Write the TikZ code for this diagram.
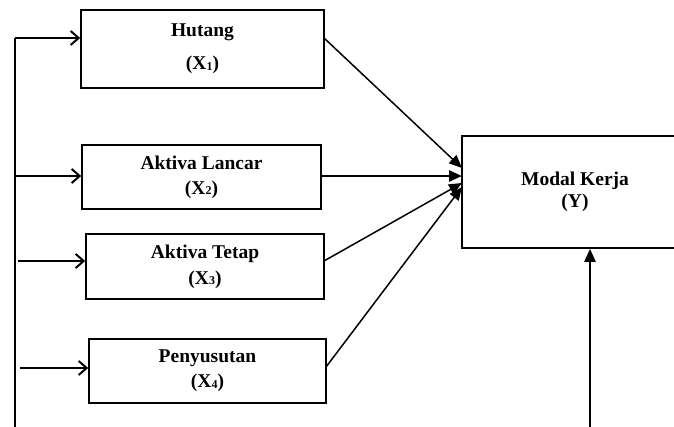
\documentclass[tikz,border=0pt]{standalone}
\usepackage{fontspec}
\setmainfont{Liberation Serif}
\usetikzlibrary{arrows.meta}
\newcommand{\sbx}[1]{\raisebox{-0.3pt}{\fontsize{12}{12}\selectfont #1}}
\begin{document}
\begin{tikzpicture}[x=1pt,y=-1pt,
 box/.style={draw, line width=1.6pt, rectangle, inner sep=0pt, font=\fontsize{19.5}{21}\selectfont\bfseries, align=center},
 feed/.style={line width=2.3pt, -{Straight Barb[length=8pt,width=14pt,line width=2pt]}},
 into/.style={line width=1.5pt, -{Triangle[length=13pt,width=11pt]}},
 intothick/.style={line width=2.3pt, -{Triangle[length=13pt,width=11pt]}},
 rail/.style={line width=2pt},
]
\useasboundingbox (0,0) rectangle (674,427);
\node[box, minimum width=243, minimum height=78] (h) at (202.5,49) {Hutang\\[12pt](X\sbx{1})};
\node[box, minimum width=239, minimum height=64] (al) at (201.5,177) {Aktiva Lancar\\[4pt](X\sbx{2})};
\node[box, minimum width=238, minimum height=65] (at) at (205,266.5) {Aktiva Tetap\\[5pt](X\sbx{3})};
\node[box, minimum width=237, minimum height=64] (p) at (207.5,371) {Penyusutan\\[4pt](X\sbx{4})};
\node[box, minimum width=226, minimum height=112] (y) at (575,192) {Modal Kerja\\[1pt](Y)};
% rail on the left
\coordinate (rt) at (15,38);
\coordinate (rb) at (15,427);
\coordinate (r2) at (15,176);
\coordinate (r3) at (18,261);
\coordinate (r4) at (20,368);
\draw[rail] (rb) -- (rt);
\draw[feed] (rt) -- (rt -| h.west);
\draw[feed] (r2) -- (r2 -| al.west);
\draw[feed] (r3) -- (r3 -| at.west);
\draw[feed] (r4) -- (r4 -| p.west);
% into Y
\coordinate (s1) at (324,38);
\coordinate (s2) at (321,176);
\coordinate (s3) at (324,261);
\coordinate (s4) at (326,367);
\coordinate (t1) at (462,168);
\coordinate (t2) at (462,176);
\coordinate (t3) at (462,183);
\coordinate (t4) at (462,187);
\draw[into] (s1) -- (t1);
\draw[intothick] (s2) -- (t2);
\draw[into] (s3) -- (t3);
\draw[into] (s4) -- (t4);
\coordinate (yb) at (590,427);
\draw[intothick] (yb) -- (yb |- y.south);
\end{tikzpicture}
\end{document}
